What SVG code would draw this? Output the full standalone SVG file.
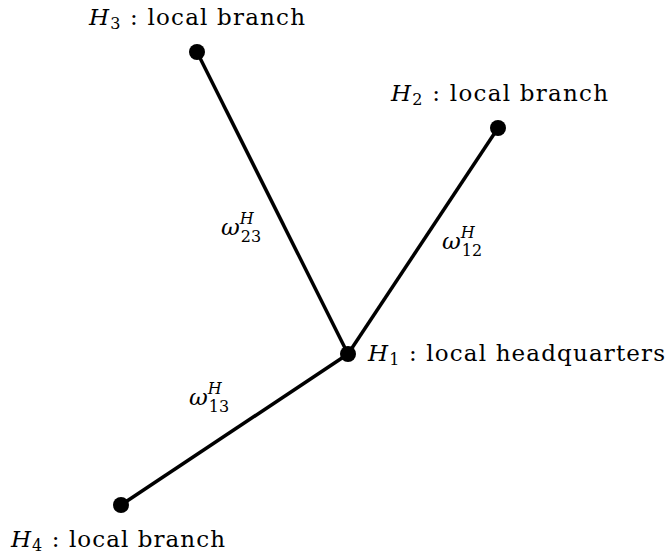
<svg xmlns="http://www.w3.org/2000/svg" width="667" height="558" viewBox="0 0 667 558">
<style>
.lbl{font-family:"DejaVu Serif","Liberation Serif",serif;font-size:23px;fill:#000}
.it{font-style:italic}
.sub{font-size:16px}
.edge{stroke:#000;stroke-width:3.5;fill:none}
.dot{fill:#000}
</style>
<rect width="667" height="558" fill="#fff"/>
<g id="connectors">
<line class="edge" x1="348" y1="354" x2="197" y2="52"/>
<line class="edge" x1="348" y1="354" x2="498" y2="128"/>
<line class="edge" x1="348" y1="354" x2="121" y2="505"/>
<text class="lbl" x="221" y="235"><tspan class="it">ω</tspan><tspan class="sub it" dy="-11">H</tspan><tspan class="sub" dx="-13" dy="18">23</tspan></text>
<text class="lbl" x="442" y="249"><tspan class="it">ω</tspan><tspan class="sub it" dy="-11">H</tspan><tspan class="sub" dx="-13" dy="18">12</tspan></text>
<text class="lbl" x="189" y="405"><tspan class="it">ω</tspan><tspan class="sub it" dy="-11">H</tspan><tspan class="sub" dx="-13" dy="18">13</tspan></text>
</g>
<g id="H1">
<circle class="dot" cx="348" cy="354" r="8"/>
<text class="lbl" x="368" y="361" textLength="297" lengthAdjust="spacing"><tspan class="it">H</tspan><tspan class="sub" dy="4">1</tspan><tspan dy="-4"> : local headquarters</tspan></text>
</g>
<g id="H2">
<circle class="dot" cx="498" cy="128" r="8"/>
<text class="lbl" x="391" y="101" textLength="217" lengthAdjust="spacing"><tspan class="it">H</tspan><tspan class="sub" dy="4">2</tspan><tspan dy="-4"> : local branch</tspan></text>
</g>
<g id="H3">
<circle class="dot" cx="197" cy="52" r="8"/>
<text class="lbl" x="89" y="25" textLength="216" lengthAdjust="spacing"><tspan class="it">H</tspan><tspan class="sub" dy="4">3</tspan><tspan dy="-4"> : local branch</tspan></text>
</g>
<g id="H4">
<circle class="dot" cx="121" cy="505" r="8"/>
<text class="lbl" x="11" y="547" textLength="214" lengthAdjust="spacing"><tspan class="it">H</tspan><tspan class="sub" dy="4">4</tspan><tspan dy="-4"> : local branch</tspan></text>
</g>
</svg>
